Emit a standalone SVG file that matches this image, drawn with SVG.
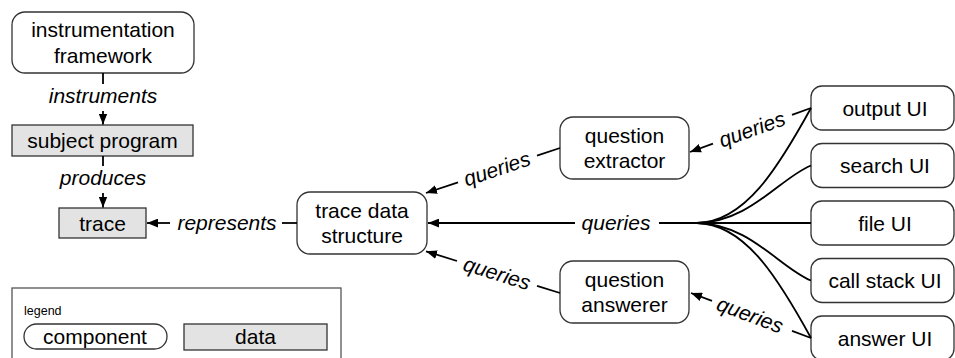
<svg xmlns="http://www.w3.org/2000/svg" width="955" height="358" viewBox="0 0 955 358">
<defs>
<marker id="ah" viewBox="0 0 10 8" markerWidth="11" markerHeight="9" markerUnits="userSpaceOnUse" refX="10" refY="4" orient="auto">
<path d="M0,0 L10,4 L0,8 z" fill="#000"/>
</marker>
</defs>
<style>
.comp{fill:#fff;stroke:#333;stroke-width:1.3}
.data{fill:#e3e3e3;stroke:#333;stroke-width:1.3}
.t{font-family:"Liberation Sans",Arial,sans-serif;font-size:21px;fill:#000;text-anchor:middle}
.lbl{font-family:"Liberation Sans",Arial,sans-serif;font-size:21px;font-style:italic;fill:#000;text-anchor:middle}
.ln{stroke:#000;stroke-width:1.8;fill:none}
.ar{stroke:#000;stroke-width:1.8;fill:none;marker-end:url(#ah)}
</style>
<rect width="955" height="358" fill="#fff"/>

<g id="legend">
<rect x="12" y="288" width="329" height="80" fill="#fff" stroke="#555" stroke-width="1.3"/>
<text x="24" y="315" style="font-family:'Liberation Sans',Arial,sans-serif;font-size:12.5px">legend</text>
<rect x="24" y="324" width="143" height="25" rx="12.5" class="comp"/>
<text x="95" y="344" class="t">component</text>
<rect x="184" y="324" width="143" height="26" class="data"/>
<text x="255.5" y="344" class="t">data</text>
</g>

<g id="instrumentation-framework">
<rect x="12" y="12" width="182" height="61" rx="13" class="comp"/>
<text x="103" y="37" class="t">instrumentation</text>
<text x="103" y="63" class="t">framework</text>
</g>
<g id="subject-program">
<rect x="12" y="125" width="181" height="31" class="data"/>
<text x="102.5" y="148" class="t">subject program</text>
</g>
<g id="trace">
<rect x="59" y="208" width="87" height="30" class="data"/>
<text x="102.5" y="230.5" class="t">trace</text>
</g>
<g id="trace-data-structure">
<rect x="297" y="192" width="130" height="62" rx="13" class="comp"/>
<text x="362" y="217.5" class="t">trace data</text>
<text x="362" y="242.5" class="t">structure</text>
</g>
<g id="question-extractor">
<rect x="560" y="117" width="129" height="62" rx="13" class="comp"/>
<text x="624.5" y="142.5" class="t">question</text>
<text x="624.5" y="167.5" class="t">extractor</text>
</g>
<g id="question-answerer">
<rect x="560" y="261" width="129" height="62" rx="13" class="comp"/>
<text x="624.5" y="286.5" class="t">question</text>
<text x="624.5" y="311.5" class="t">answerer</text>
</g>
<g id="output-ui">
<rect x="811" y="86" width="143" height="44" rx="11" class="comp"/>
<text x="885" y="115.5" class="t">output UI</text>
</g>
<g id="search-ui">
<rect x="811" y="143.5" width="143" height="44" rx="11" class="comp"/>
<text x="885" y="173" class="t">search UI</text>
</g>
<g id="file-ui">
<rect x="811" y="201" width="143" height="44" rx="11" class="comp"/>
<text x="885" y="230.5" class="t">file UI</text>
</g>
<g id="call-stack-ui">
<rect x="811" y="258.5" width="143" height="44" rx="11" class="comp"/>
<text x="885" y="288" class="t">call stack UI</text>
</g>
<g id="answer-ui">
<rect x="811" y="316" width="143" height="44" rx="11" class="comp"/>
<text x="885" y="345.5" class="t">answer UI</text>
</g>

<g id="connectors">
<!-- instruments -->
<line x1="103" y1="73" x2="103" y2="84" class="ln"/>
<text x="103" y="103" class="lbl">instruments</text>
<line x1="103" y1="111" x2="103" y2="124.5" class="ar"/>
<!-- produces -->
<line x1="103" y1="156" x2="103" y2="166" class="ln"/>
<text x="103" y="185" class="lbl">produces</text>
<line x1="103" y1="193" x2="103" y2="207.5" class="ar"/>
<!-- represents -->
<line x1="297" y1="223" x2="282" y2="223" class="ln"/>
<text x="227" y="230" class="lbl">represents</text>
<line x1="170" y1="223" x2="147" y2="223" class="ar"/>
<!-- middle queries -->
<line x1="575" y1="223" x2="428" y2="223" class="ar"/>
<text x="616" y="230" class="lbl">queries</text>
<line x1="659" y1="223" x2="811" y2="223" class="ln"/>
<path d="M697,223 C745,222 778,168 811,108" class="ln"/>
<path d="M697,223 C750,222 780,178 811,165.5" class="ln"/>
<path d="M697,223 C750,224 780,268 811,280.5" class="ln"/>
<path d="M697,223 C745,224 778,278 811,338" class="ln"/>
<!-- qe -> tds -->
<line x1="560" y1="148" x2="537" y2="155.7" class="ln"/>
<text transform="translate(497,169) rotate(-18.6)" x="0" y="7" class="lbl">queries</text>
<line x1="458" y1="182.3" x2="426" y2="193" class="ar"/>
<!-- qa -> tds -->
<line x1="560" y1="293" x2="537" y2="285.8" class="ln"/>
<text transform="translate(497,273.5) rotate(17.4)" x="0" y="7" class="lbl">queries</text>
<line x1="457" y1="261" x2="426" y2="251.3" class="ar"/>
<!-- output UI -> qe -->
<line x1="811" y1="108" x2="792" y2="114.9" class="ln"/>
<text transform="translate(752,129.5) rotate(-20)" x="0" y="7" class="lbl">queries</text>
<line x1="713" y1="143.6" x2="690" y2="152" class="ar"/>
<!-- answer UI -> qa -->
<line x1="811" y1="338" x2="792" y2="330.9" class="ln"/>
<text transform="translate(750,315) rotate(20.6)" x="0" y="7" class="lbl">queries</text>
<line x1="712" y1="300.9" x2="691" y2="293" class="ar"/>
</g>
</svg>
